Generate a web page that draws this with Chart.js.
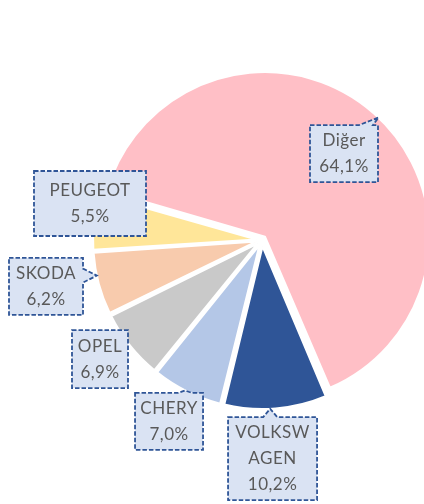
<!DOCTYPE html>
<html>
<head>
<meta charset="utf-8">
<script src="https://cdn.jsdelivr.net/npm/chart.js@4.4.1/dist/chart.umd.min.js"></script>
<style>
  html, body { margin: 0; padding: 0; background: #fff; }
  #wrap { width: 424px; height: 504px; position: relative; }
</style>
</head>
<body>
<div id="wrap"><canvas id="canvas"></canvas></div>
<script>
var categories = ['Diğer', 'VOLKSWAGEN', 'CHERY', 'OPEL', 'SKODA', 'PEUGEOT'];
var shares = [64.1, 10.2, 7.0, 6.9, 6.2, 5.5];
var sliceColors = ['#FFBFC6', '#2F5597', '#B4C7E7', '#C9C9C9', '#F8CBAD', '#FFE699'];

// callout boxes: centre relative to the pie centre (in radii) and box size in px
var calloutPos = [[0.5125, -0.54], [0.066, 1.366], [-0.581, 1.134], [-1.0125, 0.744], [-1.35, 0.29], [-1.075, -0.228]];
var calloutSize = [[68, 57], [89, 83], [68, 57], [56, 58], [74, 57], [112, 65]];

var explode = 9; // how far each slice is pulled out, px

function fmt(v) {
  return v.toFixed(1).replace('.', ',') + '%';
}

// break a word only when it does not fit in the box at all
function wrapWord(ctx, s, boxW) {
  if (ctx.measureText(s).width <= boxW - 4) return [s];
  var maxW = boxW - 11;
  var lines = [], cur = '';
  for (var k = 0; k < s.length; k++) {
    if (cur && ctx.measureText(cur + s[k]).width > maxW) {
      lines.push(cur);
      cur = s[k];
    } else {
      cur += s[k];
    }
  }
  lines.push(cur);
  return lines;
}

function boxPath(ctx, x0, y0, x1, y1, side, b, tip, hw) {
  ctx.beginPath();
  ctx.moveTo(x0, y0);
  if (side === 'top') { ctx.lineTo(b - hw, y0); ctx.lineTo(tip.x, tip.y); ctx.lineTo(b + hw, y0); }
  ctx.lineTo(x1, y0);
  if (side === 'right') { ctx.lineTo(x1, b - hw); ctx.lineTo(tip.x, tip.y); ctx.lineTo(x1, b + hw); }
  ctx.lineTo(x1, y1);
  if (side === 'bottom') { ctx.lineTo(b + hw, y1); ctx.lineTo(tip.x, tip.y); ctx.lineTo(b - hw, y1); }
  ctx.lineTo(x0, y1);
  if (side === 'left') { ctx.lineTo(x0, b + hw); ctx.lineTo(tip.x, tip.y); ctx.lineTo(x0, b - hw); }
  ctx.closePath();
}

// Excel-style callout labels with dashed borders
var callouts = {
  id: 'callouts',
  afterDatasetsDraw: function(chart) {
    var ctx = chart.ctx;
    var meta = chart.getDatasetMeta(0);
    ctx.save();
    ctx.font = '17px Lato';
    ctx.letterSpacing = '0.5px';
    meta.data.forEach(function(el, i) {
      var R = el.outerRadius;
      var start = el.startAngle, end = el.endAngle;
      var mid = (start + end) / 2;
      var acx = el.x + Math.cos(mid) * explode;
      var acy = el.y + Math.sin(mid) * explode;

      var w = calloutSize[i][0], h = calloutSize[i][1];
      var bx = el.x + calloutPos[i][0] * R;
      var by = el.y + calloutPos[i][1] * R;
      var x0 = bx - w / 2, x1 = bx + w / 2, y0 = by - h / 2, y1 = by + h / 2;

      // pointer tip on the slice's outer edge
      var a = Math.atan2(by - acy, bx - acx);
      while (a < start) a += 2 * Math.PI;
      while (a > start + 2 * Math.PI) a -= 2 * Math.PI;
      if (a > end) a = (a - end < start + 2 * Math.PI - a) ? end : start;
      var tip = { x: acx + Math.cos(a) * R, y: acy + Math.sin(a) * R };

      var dxo = tip.x < x0 ? x0 - tip.x : (tip.x > x1 ? tip.x - x1 : 0);
      var dyo = tip.y < y0 ? y0 - tip.y : (tip.y > y1 ? tip.y - y1 : 0);
      var side = null, b = 0, hw = 7;
      if (Math.max(dxo, dyo) > 2) {
        if (dyo >= dxo) {
          side = tip.y < y0 ? 'top' : 'bottom';
          b = Math.min(Math.max(tip.x, x0 + 12), x1 - 12);
        } else {
          side = tip.x < x0 ? 'left' : 'right';
          b = Math.min(Math.max(tip.y, y0 + 12), y1 - 12);
        }
      }

      boxPath(ctx, x0, y0, x1, y1, side, b, tip, hw);
      ctx.fillStyle = '#DAE3F3';
      ctx.fill();
      ctx.setLineDash([4.5, 2]);
      ctx.lineWidth = 1.8;
      ctx.strokeStyle = '#2F5597';
      ctx.stroke();
      ctx.setLineDash([]);

      var lines = wrapWord(ctx, categories[i], w);
      lines.push(fmt(shares[i]));
      ctx.fillStyle = '#595959';
      ctx.textAlign = 'center';
      ctx.textBaseline = 'middle';
      var lh = 26;
      var ty = by - (lines.length - 1) * lh / 2;
      lines.forEach(function(t, k) {
        ctx.fillText(t, bx, ty + k * lh);
      });
    });
    ctx.restore();
  }
};

window.onload = function() {
  var ctx = document.getElementById('canvas').getContext('2d');
  window.myPie = new Chart(ctx, {
    type: 'pie',
    data: {
      labels: categories,
      datasets: [{
        data: shares,
        backgroundColor: sliceColors,
        borderColor: '#ffffff',
        borderWidth: 2,
        clip: false,
        // Chart.js moves an arc by offset/4*(1+fix); undo that so every slice moves `explode` px
        offset: function(c) {
          var total = shares.reduce(function(s, v) { return s + v; }, 0);
          var circ = shares[c.dataIndex] / total * 2 * Math.PI;
          var fix = 1 - Math.sin(Math.min(Math.PI, circ));
          return explode * 4 / (1 + fix);
        }
      }]
    },
    options: {
      responsive: true,
      maintainAspectRatio: false,
      animation: false,
      events: [],
      rotation: -74,
      radius: 160,
      layout: { padding: { left: 100, right: 0, top: 0, bottom: 24 } },
      plugins: {
        legend: { display: false },
        tooltip: { enabled: false },
        title: { display: false }
      }
    },
    plugins: [callouts]
  });
};
</script>
</body>
</html>
